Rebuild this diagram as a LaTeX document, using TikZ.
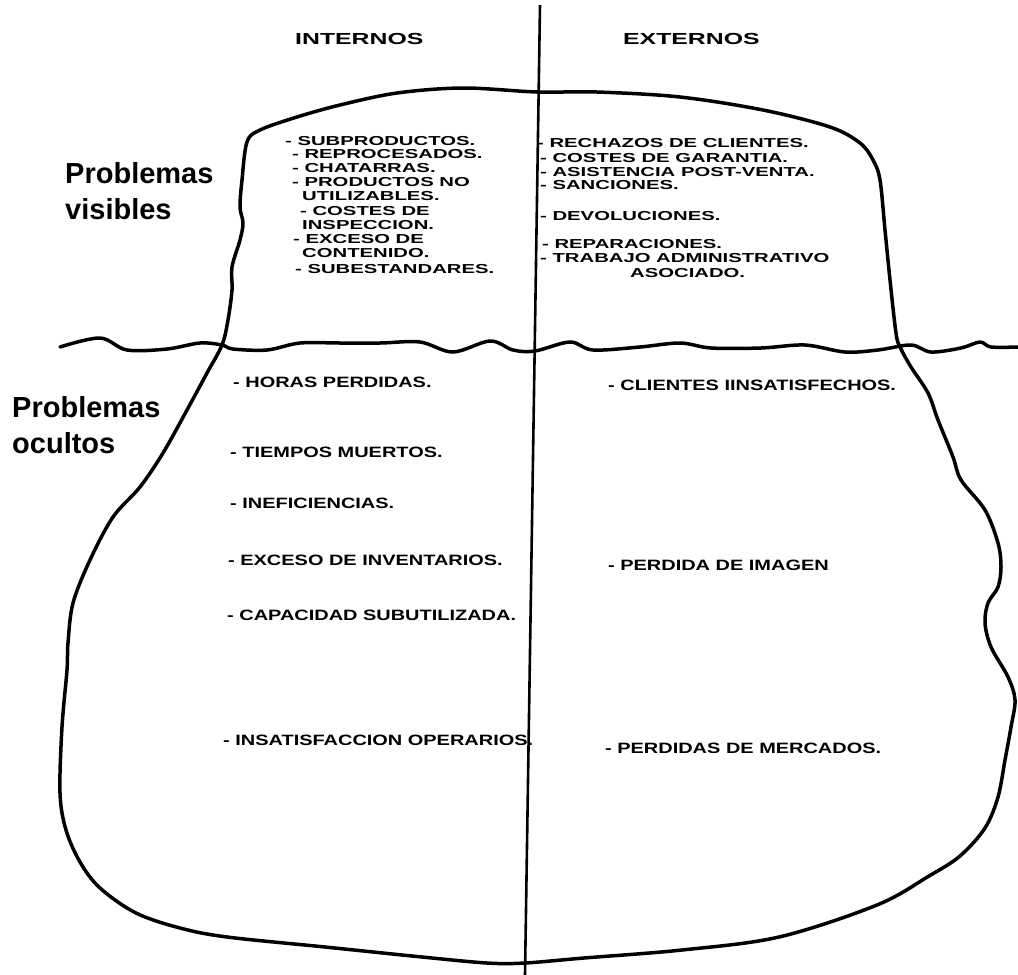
\documentclass[tikz,border=0pt]{standalone}
\usepackage{fontspec}
\newfontfamily\itemfont[FakeStretch=1.56]{Liberation Sans}
\newfontfamily\lowfont[FakeStretch=1.33]{Liberation Sans}
\newfontfamily\headfont[FakeStretch=1.55]{Liberation Sans}
\newfontfamily\bigfont{Liberation Sans}
\tikzset{
  upitem/.style={anchor=base west, inner sep=0pt, font=\itemfont\fontsize{13}{13}\selectfont\bfseries},
  lowitem/.style={anchor=base west, inner sep=0pt, font=\lowfont\fontsize{15}{15}\selectfont\bfseries},
  headlabel/.style={anchor=base west, inner sep=0pt, font=\headfont\fontsize{16}{16}\selectfont\bfseries},
  biglabel/.style={anchor=base west, inner sep=0pt, font=\bigfont\fontsize{29}{29}\selectfont\bfseries},
  iceberg/.style={line width=3.5pt, line join=round, line cap=round},
  waterline/.style={line width=3.5pt, line join=round, line cap=round},
  divider/.style={line width=2.6pt}
}
\begin{document}
\begin{tikzpicture}[x=1pt, y=-1pt]
\useasboundingbox (0,0) rectangle (1018,975);
\fill[white] (0,0) rectangle (1018,975);

% iceberg outline
\draw[iceberg] plot[smooth cycle, tension=0.55] coordinates {
 (222,345) (228,320) (232,290) (232,267) (240,240) (243,223) (240,207) (242,180)
 (247,142) (260,130) (297,117) (340,105) (397,93) (463,88) (537,92) (597,92)
 (680,97) (763,110) (830,127) (860,143) (873,160) (880,180) (885,230) (890,280)
 (896,333) (900,347) (911,367) (928,393) (938,420) (953,457) (961,480) (985,510)
 (998,543) (1001,567) (998,587) (988,603) (985,623) (991,647) (1008,677) (1015,700)
 (1011,727) (1005,760) (998,797) (985,828) (960,856) (929,876) (877,905) (779,937)
 (682,950) (584,958) (525,963) (487,963) (422,957) (325,947) (227,937) (180,928)
 (136,913) (100,888) (80,862) (66,830) (60,793) (62,727) (67,670) (68,643)
 (73,603) (90,560) (113,517) (140,487) (163,453) (187,410) (207,373)
};

% waterline
\draw[waterline] plot[smooth, tension=0.55] coordinates {
 (60,347) (100,338) (127,350) (167,349) (200,343) (222,345) (233,349) (267,350)
 (300,343) (340,343) (380,343) (420,342) (453,352) (490,341) (513,350) (535,351)
 (570,342) (593,350) (640,347) (680,343) (711,348) (761,348) (805,345) (845,352)
 (878,350) (911,345) (931,352) (961,348) (980,342) (991,347) (1018,347)
};

% divider
\coordinate (vtop) at (540,5);
\coordinate (vbot) at (525,975);
\draw[divider] (vtop) -- (vbot);

% headers
\node[headlabel] (hint) at (295,44) {INTERNOS};
\node[headlabel] (hext) at (623,44) {EXTERNOS};

% side labels
\node[biglabel] (vis1) at (65,183) {Problemas};
\node[biglabel] (vis2) at (65,219) {visibles};
\node[biglabel] (ocu1) at (12,417) {Problemas};
\node[biglabel] (ocu2) at (12,453) {ocultos};

% visible, internal
\node[upitem] (i1) at (285,145) {- SUBPRODUCTOS.};
\node[upitem] (i2) at (292,158) {- REPROCESADOS.};
\node[upitem] (i3) at (292,172) {- CHATARRAS.};
\node[upitem] (i4) at (292,186) {- PRODUCTOS NO};
\node[upitem] (i5) at (302,200) {UTILIZABLES.};
\node[upitem] (i6) at (300,215) {- COSTES DE};
\node[upitem] (i7) at (302,229) {INSPECCION.};
\node[upitem] (i8) at (293,243) {- EXCESO DE};
\node[upitem] (i9) at (302,257) {CONTENIDO.};
\node[upitem] (i10) at (295,273) {- SUBESTANDARES.};

% visible, external
\node[upitem] (e1) at (537,147) {- RECHAZOS DE CLIENTES.};
\node[upitem] (e2) at (540,162) {- COSTES DE GARANTIA.};
\node[upitem] (e3) at (540,176) {- ASISTENCIA POST-VENTA.};
\node[upitem] (e4) at (540,189) {- SANCIONES.};
\node[upitem] (e5) at (540,220) {- DEVOLUCIONES.};
\node[upitem] (e6) at (542,248) {- REPARACIONES.};
\node[upitem] (e7) at (540,262) {- TRABAJO ADMINISTRATIVO};
\node[upitem] (e8) at (630,277) {ASOCIADO.};

% hidden, internal
\node[lowitem] (h1) at (233,387) {- HORAS PERDIDAS.};
\node[lowitem] (h2) at (230,457) {- TIEMPOS MUERTOS.};
\node[lowitem] (h3) at (230,508) {- INEFICIENCIAS.};
\node[lowitem] (h4) at (228,565) {- EXCESO DE INVENTARIOS.};
\node[lowitem] (h5) at (227,620) {- CAPACIDAD SUBUTILIZADA.};
\node[lowitem] (h6) at (223,745) {- INSATISFACCION OPERARIOS.};

% hidden, external
\node[lowitem] (x1) at (608,390) {- CLIENTES IINSATISFECHOS.};
\node[lowitem] (x2) at (608,570) {- PERDIDA DE IMAGEN};
\node[lowitem] (x3) at (605,753) {- PERDIDAS DE MERCADOS.};
\end{tikzpicture}
\end{document}
